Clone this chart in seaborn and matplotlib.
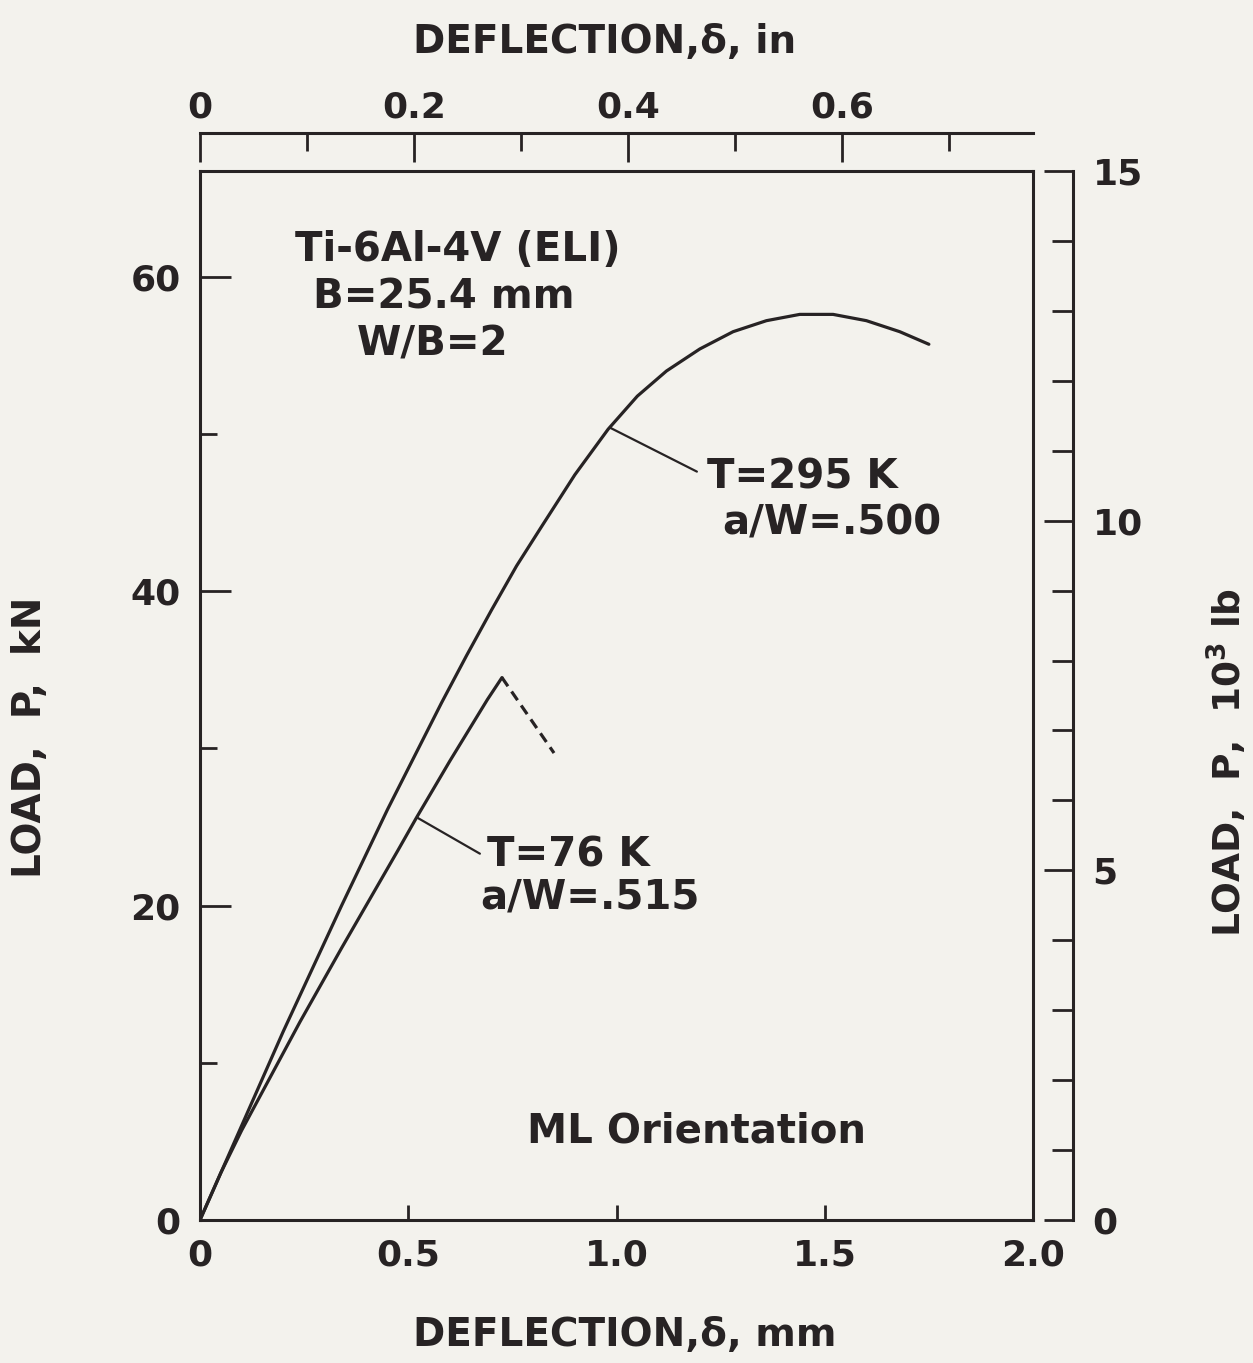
import numpy as np
import pandas as pd
import matplotlib.pyplot as plt
import seaborn as sns
from matplotlib.ticker import FixedLocator, MultipleLocator

# load-deflection records (mm, kN)
defl_295 = [0, 0.05, 0.10, 0.20, 0.34, 0.45, 0.58, 0.64, 0.70, 0.76, 0.82,
            0.90, 0.98, 1.05, 1.12, 1.20, 1.28, 1.36, 1.44, 1.52, 1.60,
            1.68, 1.75]
load_295 = [0, 3.0, 6.0, 12.0, 20.0, 26.1, 32.9, 35.9, 38.8, 41.6, 44.1,
            47.4, 50.3, 52.4, 54.0, 55.4, 56.5, 57.2, 57.6, 57.6, 57.2,
            56.5, 55.7]

defl_76 = [0, 0.05, 0.10, 0.24, 0.34, 0.475, 0.52, 0.60, 0.69, 0.725]
load_76 = [0, 3.0, 5.7, 12.6, 17.3, 23.5, 25.6, 29.2, 33.1, 34.5]

# unstable drop after pop-in (dashed)
defl_76_drop = [0.725, 0.85]
load_76_drop = [34.5, 29.7]

x_ticks = [0, 0.5, 1.0, 1.5, 2.0]
x_ticklabels = ['0', '0.5', '1.0', '1.5', '2.0']
y_ticks = [0, 20, 40, 60]
top_ticks = [0, 0.2, 0.4, 0.6]
top_ticklabels = ['0', '0.2', '0.4', '0.6']
right_ticks = [0, 5, 10, 15]

KN_PER_KLB = 4.448
MM_PER_TOP = 2.57

ink = '#272324'
bg = '#f3f2ed'

sns.set_theme(style='white')
plt.rcParams['font.family'] = ['DejaVu Sans']
plt.rcParams['font.weight'] = 'bold'
plt.rcParams['mathtext.default'] = 'bf'
plt.rcParams['text.color'] = ink
plt.rcParams['axes.labelcolor'] = ink
plt.rcParams['axes.labelweight'] = 'bold'

fig = plt.figure(figsize=(12.53, 13.63), dpi=100, facecolor=bg)
ax = fig.add_axes([200 / 1253, 143 / 1363, 833 / 1253, 1049 / 1363])
ax.set_facecolor(bg)

sns.lineplot(x=defl_295, y=load_295, ax=ax, color=ink, lw=2.3, sort=False)
sns.lineplot(x=defl_76, y=load_76, ax=ax, color=ink, lw=2.3, sort=False)
sns.lineplot(x=defl_76_drop, y=load_76_drop, ax=ax, color=ink, lw=2.3,
             sort=False, linestyle=(0, (3.3, 2.0)))

ax.set_xlim(0, 2.0)
ax.set_ylim(0, 15 * KN_PER_KLB)

for s in ax.spines.values():
    s.set_linewidth(2.2)
    s.set_color(ink)

ax.xaxis.set_major_locator(FixedLocator(x_ticks))
ax.set_xticklabels(x_ticklabels)
ax.yaxis.set_major_locator(FixedLocator(y_ticks))
ax.set_yticklabels([str(v) for v in y_ticks])
ax.yaxis.set_minor_locator(MultipleLocator(10))
ax.tick_params(axis='x', which='major', direction='in', length=11, width=2,
               top=True, pad=13, labelsize=26, colors=ink)
ax.tick_params(axis='y', which='major', direction='in', length=22, width=2,
               right=True, pad=14, labelsize=26, colors=ink)
ax.tick_params(axis='y', which='minor', direction='in', length=12, width=2,
               right=True, colors=ink)

# inch scale on a detached top axis
ax_top = ax.twiny()
ax_top.set_xlim(0, 2.0 / MM_PER_TOP)
for name, s in ax_top.spines.items():
    s.set_visible(name == 'top')
ax_top.spines['top'].set_position(('outward', 27.4))
ax_top.spines['top'].set_linewidth(2.2)
ax_top.spines['top'].set_color(ink)
ax_top.xaxis.set_major_locator(FixedLocator(top_ticks))
ax_top.set_xticklabels(top_ticklabels)
ax_top.xaxis.set_minor_locator(FixedLocator([0.1, 0.3, 0.5, 0.7]))
ax_top.tick_params(axis='x', which='major', direction='in', length=21, width=2,
                   pad=6, labelsize=26, colors=ink, top=True, bottom=False)
ax_top.tick_params(axis='x', which='minor', direction='in', length=13, width=2,
                   colors=ink, top=True, bottom=False)

# 10^3 lb scale on a detached right axis
ax_r = ax.twinx()
ax_r.set_ylim(0, 15)
for name, s in ax_r.spines.items():
    s.set_visible(name == 'right')
ax_r.spines['right'].set_position(('outward', 28.8))
ax_r.spines['right'].set_linewidth(2.2)
ax_r.spines['right'].set_color(ink)
ax_r.yaxis.set_major_locator(FixedLocator(right_ticks))
ax_r.set_yticklabels([str(v) for v in right_ticks])
ax_r.yaxis.set_minor_locator(MultipleLocator(1))
ax_r.tick_params(axis='y', which='major', direction='in', length=21, width=2,
                 pad=14, labelsize=26, colors=ink)
ax_r.tick_params(axis='y', which='minor', direction='in', length=15, width=2,
                 colors=ink)

# axis titles
ax.set_xlabel('DEFLECTION,δ, mm', fontsize=28, va='center')
ax.xaxis.set_label_coords(0.51, -0.11)
ax.set_ylabel('LOAD,  P,  kN', fontsize=28, va='center')
ax.yaxis.set_label_coords(-0.204, 0.46)
ax_top.set_xlabel('DEFLECTION,δ, in', fontsize=28, va='center')
ax_top.xaxis.set_label_coords(0.486, 1.123)
ax_r.set_ylabel('LOAD,  P,  10$^3$ lb', fontsize=27, va='center', rotation=90)
ax_r.yaxis.set_label_coords(1.233, 0.436)

# annotations
txt = dict(fontsize=29, fontweight='bold', color=ink, va='center', ha='left')
ax.text(0.228, 61.7, 'Ti-6Al-4V (ELI)', **txt)
ax.text(0.271, 58.7, 'B=25.4 mm', **txt)
ax.text(0.377, 55.7, 'W/B=2', **txt)

ax.text(1.217, 47.2, 'T=295 K', **txt)
ax.text(1.253, 44.3, 'a/W=.500', **txt)
ax.annotate('', xy=(0.984, 50.4), xytext=(1.193, 47.6),
            arrowprops=dict(arrowstyle='-', color=ink, lw=1.6, shrinkA=0, shrinkB=0))

ax.text(0.689, 23.2, 'T=76 K', **txt)
ax.text(0.672, 20.5, 'a/W=.515', **txt)
ax.annotate('', xy=(0.521, 25.6), xytext=(0.672, 23.3),
            arrowprops=dict(arrowstyle='-', color=ink, lw=1.6, shrinkA=0, shrinkB=0))

ax.text(1.191, 5.6, 'ML Orientation', fontsize=29, fontweight='bold',
        color=ink, va='center', ha='center')

fig.savefig('out.png', dpi=100, facecolor=bg)
